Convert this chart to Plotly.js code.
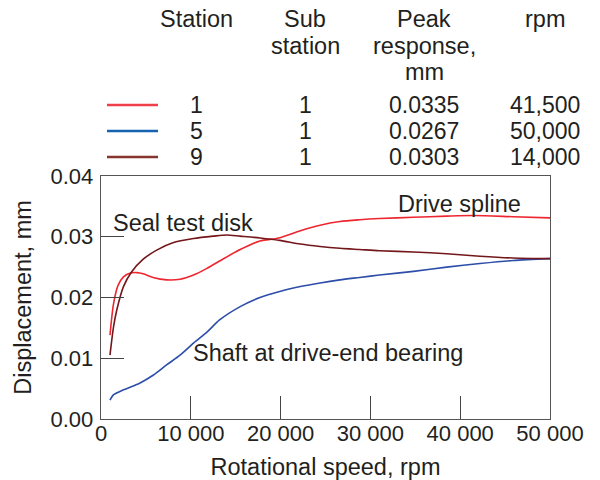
<!DOCTYPE html>
<html>
<head>
<meta charset="utf-8">
<script src="https://cdn.plot.ly/plotly-3.0.1.min.js"></script>
<style>html,body{margin:0;padding:0;background:#fff;}#chart{width:600px;height:480px;}</style>
</head>
<body>
<div id="chart"></div>
<script>
// Station 1 (red) – drive spline
const x1 = [1000, 1400, 1900, 2500, 3200, 4000, 4700, 5800, 7300, 8800, 10300, 11800, 13200, 15500, 17700, 19800, 22200, 24400, 26600, 28800, 31000, 34800, 38500, 41500, 45900, 50000];
const y1 = [0.0138, 0.0190, 0.0220, 0.0234, 0.0240, 0.0241, 0.0239, 0.0233, 0.0229, 0.0230, 0.0237, 0.0248, 0.0260, 0.0279, 0.0293, 0.0298, 0.0310, 0.0319, 0.0325, 0.0328, 0.0330, 0.0332, 0.0334, 0.0335, 0.0333, 0.0331];
// Station 5 (blue) – shaft at drive-end bearing
const x5 = [1000, 1400, 2500, 4300, 5800, 7300, 8800, 10300, 11800, 13200, 15500, 17700, 19900, 22200, 24400, 26600, 28800, 31000, 34800, 38500, 42200, 45900, 50000];
const y5 = [0.0031, 0.0040, 0.0048, 0.0059, 0.0072, 0.0089, 0.0105, 0.0125, 0.0143, 0.0163, 0.0185, 0.0200, 0.0210, 0.0218, 0.0224, 0.0229, 0.0233, 0.0237, 0.0243, 0.0250, 0.0256, 0.0261, 0.0264];
// Station 9 (dark red) – seal test disk
const x9 = [1000, 1400, 1750, 2500, 3400, 4700, 6200, 8000, 10300, 12500, 14000, 15500, 17700, 19900, 22200, 24400, 26600, 28800, 31000, 34800, 38500, 42200, 45900, 50000];
const y9 = [0.0105, 0.0152, 0.0179, 0.0218, 0.0242, 0.0263, 0.0278, 0.0290, 0.0297, 0.0301, 0.0303, 0.0301, 0.0298, 0.0294, 0.0288, 0.0284, 0.0281, 0.0279, 0.0277, 0.0275, 0.0272, 0.0268, 0.0265, 0.0264];

// Table in header
const headers = [['Station'], ['Sub', 'station'], ['Peak', 'response,', 'mm'], ['rpm']];
const stations = ['1', '5', '9'];
const substations = ['1', '1', '1'];
const peaks = ['0.0335', '0.0267', '0.0303'];
const peakRpm = ['41,500', '50,000', '14,000'];

const xTickVals = [0, 10000, 20000, 30000, 40000, 50000];
const xTickText = ['0', '10 000', '20 000', '30 000', '40 000', '50 000'];
const yTickVals = [0, 0.01, 0.02, 0.03, 0.04];
const yTickText = ['0.00', '0.01', '0.02', '0.03', '0.04'];

const curveLabels = ['Seal test disk', 'Drive spline', 'Shaft at drive-end bearing'];
const curveLabelX = [1150, 32850, 10000];
const curveLabelY = [0.0322, 0.0354, 0.0109];

const FONT = '"Liberation Sans", Arial, Helvetica, sans-serif';
const TXT = '#231f20';
const colRed = '#ee2630', colBlue = '#2c4da8', colDark = '#74171a';
const legRed = '#ef3f48', legBlue = '#1563b0', legDark = '#86352c';
const TS = 23.5;

const traces = [
  {x: x1, y: y1, mode: 'lines', line: {color: colRed, width: 1.6, shape: 'spline', smoothing: 0.8}, showlegend: false, hoverinfo: 'skip'},
  {x: x5, y: y5, mode: 'lines', line: {color: colBlue, width: 1.6, shape: 'spline', smoothing: 0.8}, showlegend: false, hoverinfo: 'skip'},
  {x: x9, y: y9, mode: 'lines', line: {color: colDark, width: 1.6, shape: 'spline', smoothing: 0.8}, showlegend: false, hoverinfo: 'skip'}
];

// paper coordinate helpers (plot area: left 101, right 550, top 176, bottom 419)
const W = 449, H = 243;
const px = v => (v - 101) / W;
const py = v => (419 - v) / H;

const annotations = [];
const colX = [196, 305, 424, 545];
const headY = [19, 45.5, 72];
headers.forEach((lines, i) => {
  lines.forEach((t, j) => {
    annotations.push({xref: 'paper', yref: 'paper', x: px(colX[i]), y: py(headY[j]), xanchor: 'center', yanchor: 'middle',
      text: t, showarrow: false, font: {family: FONT, size: TS, color: TXT}});
  });
});
const rowY = [105, 131, 157];
const rowCols = [stations, substations, peaks, peakRpm];
rowCols.forEach((col, c) => {
  col.forEach((v, r) => {
    annotations.push({xref: 'paper', yref: 'paper', x: px(colX[c]), y: py(rowY[r]), xanchor: 'center', yanchor: 'middle',
      text: v, showarrow: false, font: {family: FONT, size: 23, color: TXT}});
  });
});
curveLabels.forEach((t, i) => {
  annotations.push({xref: 'x', yref: 'y', x: curveLabelX[i], y: curveLabelY[i], xanchor: 'left', yanchor: 'middle',
    text: t, showarrow: false, font: {family: FONT, size: TS, color: TXT}});
});

const legColors = [legRed, legBlue, legDark];
const shapes = legColors.map((c, i) => ({
  type: 'line', xref: 'paper', yref: 'paper', x0: px(107), x1: px(158), y0: py(rowY[i]), y1: py(rowY[i]),
  line: {color: c, width: 2.6}
}));

const layout = {
  width: 600, height: 480,
  margin: {l: 101, r: 50, t: 176, b: 61, pad: 0},
  paper_bgcolor: '#ffffff', plot_bgcolor: '#ffffff',
  font: {family: FONT, color: TXT},
  xaxis: {
    range: [0, 50000], tickvals: xTickVals, ticktext: xTickText,
    ticks: 'inside', ticklen: 23, tickwidth: 1, tickcolor: '#444',
    showline: true, linecolor: '#555', linewidth: 1.3, mirror: true,
    showgrid: false, zeroline: false, fixedrange: true,
    tickfont: {family: FONT, size: 22, color: TXT},
    ticklabelstandoff: -6,
    title: {text: 'Rotational speed, rpm', font: {family: FONT, size: TS, color: TXT}, standoff: 15}
  },
  yaxis: {
    range: [0, 0.04], tickvals: yTickVals, ticktext: yTickText,
    ticks: 'inside', ticklen: 23, tickwidth: 1, tickcolor: '#444',
    showline: true, linecolor: '#555', linewidth: 1.3, mirror: true,
    showgrid: false, zeroline: false, fixedrange: true,
    tickfont: {family: FONT, size: 22, color: TXT},
    ticklabelstandoff: 2,
    title: {text: 'Displacement, mm', font: {family: FONT, size: TS, color: TXT}, standoff: 12}
  },
  annotations: annotations,
  shapes: shapes
};

Plotly.newPlot('chart', traces, layout, {displayModeBar: false, staticPlot: true});
</script>
</body>
</html>
